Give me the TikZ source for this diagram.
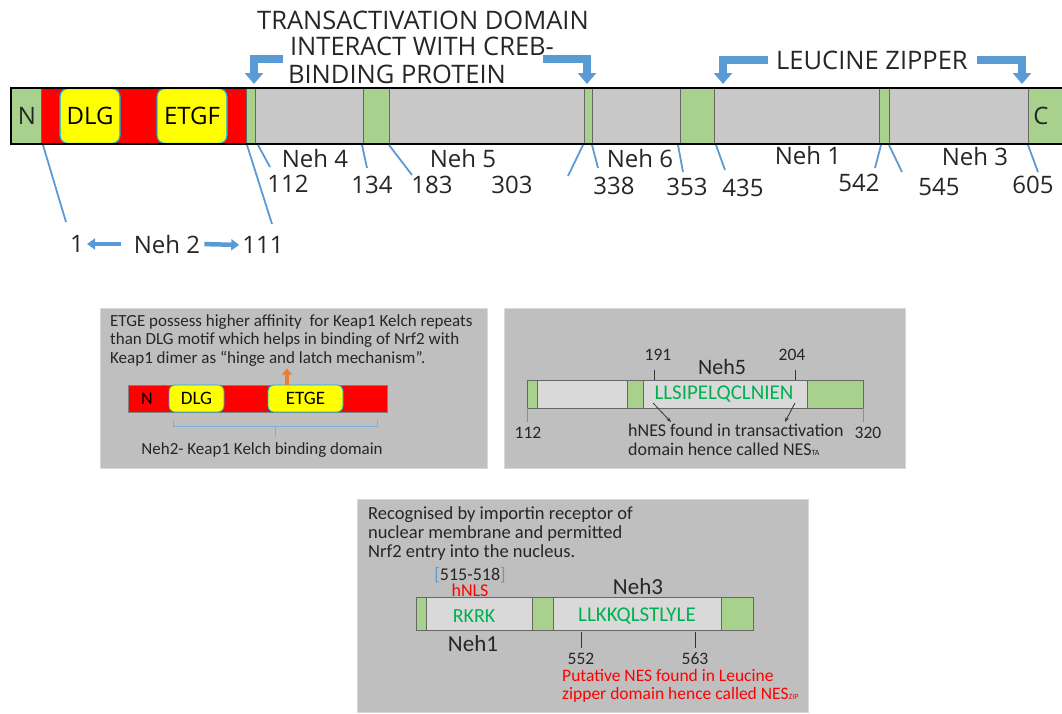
\documentclass[tikz,border=0pt]{standalone}
\usepackage{fontspec}
\setmainfont{Carlito}
\newfontfamily\headfont{Open Sans}
\usepackage{xcolor}
\usetikzlibrary{arrows.meta, positioning, calc}
\definecolor{nrfGreen}{RGB}{169, 209, 142}
\definecolor{nrfGray}{RGB}{200, 200, 200}
\definecolor{nrfLight}{RGB}{217, 217, 217}
\definecolor{nrfPanel}{RGB}{191, 191, 191}
\definecolor{nrfRed}{RGB}{255, 0, 0}
\definecolor{nrfYellow}{RGB}{255, 255, 0}
\definecolor{nrfBlue}{RGB}{91, 155, 213}
\definecolor{nrfCyan}{RGB}{0, 176, 240}
\definecolor{nrfOrange}{RGB}{237, 125, 49}
\definecolor{nrfSeq}{RGB}{0, 176, 80}

\begin{document}
\begin{tikzpicture}[x=1pt, y=-1pt, font=\fontsize{17}{18.5}\selectfont]
        \tikzstyle{seg} = [draw=black!60, line width=0.8pt]
        \tikzstyle{motif} = [rectangle, rounded corners=8pt, draw=nrfCyan, line width=1.2pt, fill=nrfYellow, inner sep=0pt]
        \tikzstyle{tick} = [nrfBlue, line width=1.8pt]
        \tikzstyle{num} = [font=\headfont\fontsize{24}{26}\selectfont, text=black!85, inner sep=0pt]
        \tikzstyle{head} = [font=\headfont\fontsize{25.5}{27}\selectfont, text=black!85, inner sep=0pt]
        \tikzstyle{bigarrow} = [nrfBlue, line width=8pt, -{Triangle[length=11pt, width=18pt]}]
        \tikzstyle{midarrow} = [nrfBlue, line width=4.5pt, -{Triangle[length=8pt, width=11pt]}]
        \tikzstyle{panel} = [fill=nrfPanel, draw=nrfPanel!60!white, line width=1pt]
        \tikzstyle{note} = [align=left, inner sep=0pt, anchor=north west, text=black!85]
        \tikzstyle{seq} = [text=nrfSeq, inner sep=0pt]
        \tikzstyle{small} = [font=\fontsize{17.5}{19}\selectfont, text=black!85, inner sep=0pt]
        \tikzstyle{neh} = [font=\fontsize{23}{25}\selectfont, text=black!85, inner sep=0pt]

        \useasboundingbox (0,0) rectangle (1062,713);

        % full length protein
        \foreach \xa/\xb/\c in {11/41/nrfGreen, 41/246/nrfRed, 246/255/nrfGreen, 255/363/nrfGray,
            363/389/nrfGreen, 389/584/nrfGray, 584/592/nrfGreen, 592/680/nrfGray, 680/714/nrfGreen,
            714/879/nrfGray, 879/889/nrfGreen, 889/1028/nrfGray, 1028/1064/nrfGreen}
            \filldraw[seg, fill=\c] (\xa,88) rectangle (\xb,144);
        \node[motif, minimum width=60pt, minimum height=55pt, font=\headfont\fontsize{24}{26}\selectfont] (dlgTop) at (90,116) {DLG};
        \node[motif, minimum width=70pt, minimum height=55pt, font=\headfont\fontsize{24}{26}\selectfont] (etgfTop) at (192,116) {ETGF};
        \draw[line width=1.5pt] (11,88) rectangle (1066,144);
        \node[num] (endN) at (27,116) {N};
        \node[num] (endC) at (1041,116) {C};

        \node[head] (title1) at (423,20) {TRANSACTIVATION DOMAIN};
        \node[head] (title2) at (422,46) {INTERACT WITH CREB-};
        \node[head] (title3) at (397,74) {BINDING PROTEIN};
        \node[head] (zipper) at (872,60) {LEUCINE ZIPPER};
        \coordinate (taStart) at (283,59);
        \coordinate (taEnd) at (254,84);
        \coordinate (tbStart) at (543,59);
        \coordinate (tbEnd) at (587,84);
        \coordinate (lzStart) at (768,60);
        \coordinate (lzEnd) at (723,84);
        \coordinate (lyStart) at (977,60);
        \coordinate (lyEnd) at (1022,84);
        \draw[bigarrow] (taStart) -| (taEnd);
        \draw[bigarrow] (tbStart) -| (tbEnd);
        \draw[bigarrow] (lzStart) -| (lzEnd);
        \draw[bigarrow] (lyStart) -| (lyEnd);

        % residue ticks
        \foreach \xa/\xb/\yb in {43/66/222, 247/272/224, 258/270/167, 362/367/168, 389/412/175,
            583/568/176, 592/598/168, 678/683/172, 716/725/170, 881/875/168, 889/902/172, 1028/1038/172}
            \draw[tick] (\xa,145) -- (\xb,\yb);
        \node[num] (r112) at (288,184) {112};
        \node[num] (r134) at (372,185) {134};
        \node[num] (r183) at (432,185) {183};
        \node[num] (r303) at (512,185) {303};
        \node[num] (r338) at (614,186) {338};
        \node[num] (r353) at (687,187) {353};
        \node[num] (r435) at (743,188) {435};
        \node[num] (r542) at (859,183) {542};
        \node[num] (r545) at (939,187) {545};
        \node[num] (r605) at (1033,185) {605};
        \node[num] (neh4) at (315,158) {Neh 4};
        \node[num] (neh5) at (463,158) {Neh 5};
        \node[num] (neh6) at (640,158) {Neh 6};
        \node[num] (neh1) at (808,155) {Neh 1};
        \node[num] (neh3) at (975,156) {Neh 3};

        \node[num] (r1) at (77,244) {1};
        \node[num] (neh2) at (167,244) {Neh 2};
        \node[num] (r111) at (263,245) {111};
        \draw[midarrow, shorten <=13pt, shorten >=3pt] (neh2.west) -- (r1.east);
        \draw[midarrow, shorten <=4pt, shorten >=3pt] (neh2.east) -- (r111.west);

        % Neh2 panel
        \path[panel] (100,308) rectangle (487,468);
        \node[note] (keapNote) at (110,314) {ETGE possess higher affinity\ \ for Keap1 Kelch repeats\\than DLG motif which helps in binding of Nrf2 with\\Keap1 dimer as “hinge and latch mechanism”.};
        \filldraw[fill=nrfRed, draw=black!50] (128,385) rectangle (387,412);
        \draw[black!70, line width=0.8pt] (163,385) -- (163,412);
        \node[inner sep=0pt, font=\fontsize{18}{20}\selectfont] (endN2) at (147,398.5) {N};
        \node[motif, rounded corners=6pt, line width=0.8pt, minimum width=55pt, minimum height=27pt, font=\fontsize{19}{21}\selectfont] (dlgBox) at (196.5,398.5) {DLG};
        \node[motif, rounded corners=6pt, line width=0.8pt, minimum width=75pt, minimum height=27pt, font=\fontsize{19}{21}\selectfont] (etgeBox) at (305.5,398.5) {ETGE};
        \draw[nrfOrange, line width=4pt, -{Triangle[length=6pt, width=10pt]}] ([xshift=-18.5pt]etgeBox.north) -- ++(0,-16);
        \draw[nrfBlue!80, line width=0.8pt] (173,420) -- (173,426) -- (377,426) -- (377,420) (275,426) -- (275,437);
        \node[inner sep=0pt, text=black!85] (bindLbl) at (262,450) {Neh2- Keap1 Kelch binding domain};

        % Neh5 panel
        \path[panel] (504,308) rectangle (905,468);
        \foreach \xa/\xb/\c in {527/537/nrfGreen, 537/627/nrfLight, 627/643/nrfGreen, 643/807/nrfLight, 807/863/nrfGreen}
            \filldraw[seg, fill=\c] (\xa,380) rectangle (\xb,408);
        \draw[black!60, line width=1pt] (527,380) rectangle (863,408);
        \node[seq, font=\fontsize{21}{23}\selectfont] (seqTA) at (724,394) {LLSIPELQCLNIEN};
        \draw[black!80, line width=1pt] (654,370) -- (654,380) (795,370) -- (795,380);
        \node[small] (p191) at (658,355) {191};
        \node[small] (p204) at (792,355) {204};
        \node[neh, font=\fontsize{22}{24}\selectfont] (neh5b) at (722,367) {Neh5};
        \draw[nrfBlue, line width=1pt] (527,408) -- (527,422) (863,408) -- (863,422);
        \node[small] (p112) at (528,433) {112};
        \node[small] (p320) at (868,433) {320};
        \node[note, font=\fontsize{18}{19}\selectfont] (nesNote) at (628,424) {hNES found in transactivation\\domain hence called NES{\fontsize{8}{8}\selectfont TA}};
        \draw[black!80, line width=0.8pt, -{Stealth[length=5pt]}] (653,403) -- (671,422);
        \draw[black!80, line width=0.8pt, -{Stealth[length=5pt]}] (795,403) -- (785,422);

        % Neh1 / Neh3 panel
        \path[panel] (357,499) rectangle (808,712);
        \node[note, font=\fontsize{18.5}{19}\selectfont] (nlsNote) at (368,506) {Recognised by importin receptor of\\nuclear membrane and permitted\\Nrf2 entry into the nucleus.};
        \node[inner sep=0pt, font=\fontsize{18}{20}\selectfont, text=black!85] (nlsPos) at (470,575) {{\color{nrfBlue}[}515-518{\color{nrfBlue}]}};
        \node[inner sep=0pt, font=\fontsize{18}{20}\selectfont, text=nrfRed] (hnls) at (470,590) {hNLS};
        \foreach \xa/\xb/\c in {416/426/nrfGreen, 426/532/nrfLight, 532/553/nrfGreen, 553/721/nrfLight, 721/753/nrfGreen}
            \filldraw[seg, fill=\c] (\xa,597) rectangle (\xb,630);
        \draw[black!60, line width=1pt] (416,597) rectangle (753,630);
        \node[seq, font=\fontsize{20}{22}\selectfont] (seqNLS) at (474,616) {RKRK};
        \node[seq, font=\fontsize{21}{23}\selectfont] (seqZIP) at (637,616) {LLKKQLSTLYLE};
        \node[neh] (neh3b) at (638,587) {Neh3};
        \node[neh] (neh1b) at (473,644) {Neh1};
        \draw[black!80, line width=1pt] (581,632) -- (581,648) (695,632) -- (695,648);
        \node[small] (p552) at (581,659) {552};
        \node[small] (p563) at (695,659) {563};
        \node[note, text=nrfRed, font=\fontsize{17.5}{18.5}\selectfont] (zipNote) at (562,669) {Putative NES found in Leucine\\zipper domain hence called NES{\fontsize{8}{8}\selectfont ZIP}};
    \end{tikzpicture}
\end{document}
